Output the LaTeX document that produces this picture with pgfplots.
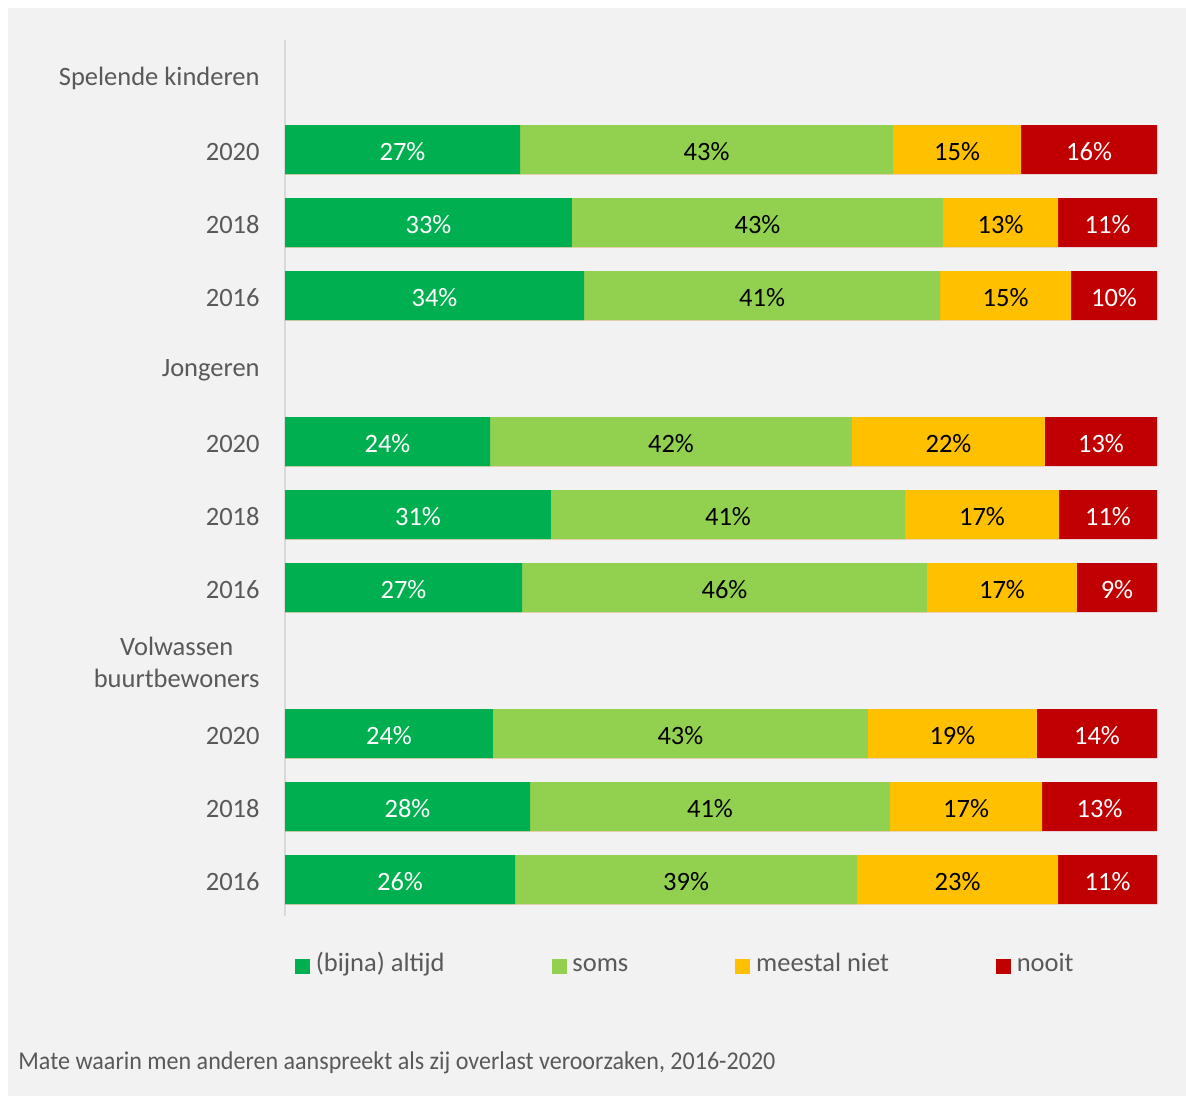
\documentclass[border=0pt]{standalone}
\usepackage{pgfplots}
\pgfplotsset{compat=1.18}
\usepackage{pgfplotstable}
\usepackage{fontspec}
\setmainfont{Carlito}
\definecolor{cGreen}{HTML}{00B050}
\definecolor{cLight}{HTML}{92D050}
\definecolor{cYellow}{HTML}{FFC000}
\definecolor{cRed}{HTML}{C00000}
\definecolor{bg}{HTML}{F2F2F2}
\definecolor{txt}{HTML}{595959}
\definecolor{axl}{HTML}{D9D9D9}
\newcommand{\lf}{\fontsize{13.25pt}{16pt}\selectfont}
\pgfplotstableread{
y a b c d la lb lc ld
1 26.95 42.78 14.68 15.59 27 43 15 16
2 32.91 42.55 13.19 11.35 33 43 13 11
3 34.29 40.83 15.02 9.86 34 41 15 10
5 23.51 41.51 22.13 12.85 24 42 22 13
6 30.50 40.60 17.66 11.24 31 41 17 11
7 27.18 46.44 17.20 9.18 27 46 17 9
9 23.85 43.00 19.38 13.77 24 43 19 14
10 28.10 41.28 17.45 13.17 28 41 17 13
11 26.38 39.22 23.05 11.35 26 39 23 11
}\data
\pgfplotsset{
  barst/.style={xbar, bar width=24.5pt, bar shift=0pt, draw=none, forget plot},
  labst/.style={draw=none, mark=none, forget plot, nodes near coords={\pgfplotspointmeta\%}, point meta=explicit symbolic,
    every node near coord/.style={anchor=center, font=\lf, text=#1, yshift=-1pt}},
}
\begin{document}
\begin{tikzpicture}
\fill[white] (0,0) rectangle (593pt,-548pt);
\useasboundingbox (0,0) rectangle (593pt,-548pt);
\fill[bg] (4pt,-4pt) rectangle (593pt,-548pt);
\begin{axis}[
  at={(142.5pt,-20pt)}, anchor=north west,
  scale only axis, width=436pt, height=438pt,
  xmin=0, xmax=100, ymin=-0.5, ymax=11.5, y dir=reverse,
  axis x line=none, axis y line=left,
  y axis line style={-, draw=axl, line width=1pt},
  ytick={0,...,11},
  yticklabels={Spelende kinderen,2020,2018,2016,Jongeren,2020,2018,2016,{Volwassen\\buurtbewoners},2020,2018,2016},
  major tick length=0pt, ytick style={draw=none},
  yticklabel style={font=\lf, text=txt, align=center, inner sep=0pt, xshift=-12.5pt, yshift=-1pt},
  clip=false,
  legend columns=4, legend cell align=left,
  legend style={at={(axis description cs:0.0115,-0.057)}, anchor=west, draw=none, fill=none,
    inner sep=0pt, outer sep=0pt,
    nodes={inner sep=0pt, font=\lf, text=txt, text height=9pt, text depth=3pt},
    /tikz/every even column/.append style={column sep=53.5pt}},
]
\addlegendimage{legend image code/.code={\fill[cGreen] (0pt,-3.5pt) rectangle (7pt,3.5pt); \path (10pt,0pt);}}
\addlegendentry{(bijna) altijd}
\addlegendimage{legend image code/.code={\fill[cLight] (0pt,-3.5pt) rectangle (7pt,3.5pt); \path (10pt,0pt);}}
\addlegendentry{soms}
\addlegendimage{legend image code/.code={\fill[cYellow] (0pt,-3.5pt) rectangle (7pt,3.5pt); \path (10pt,0pt);}}
\addlegendentry{meestal niet}
\addlegendimage{legend image code/.code={\fill[cRed] (0pt,-3.5pt) rectangle (7pt,3.5pt); \path (10pt,0pt);}}
\addlegendentry{nooit}

\addplot[barst, fill=cRed] table[x expr=\thisrow{a}+\thisrow{b}+\thisrow{c}+\thisrow{d}, y=y]{\data};
\addplot[barst, fill=cYellow] table[x expr=\thisrow{a}+\thisrow{b}+\thisrow{c}, y=y]{\data};
\addplot[barst, fill=cLight] table[x expr=\thisrow{a}+\thisrow{b}, y=y]{\data};
\addplot[barst, fill=cGreen] table[x=a, y=y]{\data};

\addplot[labst=white] table[x expr=\thisrow{a}/2, y=y, meta=la]{\data};
\addplot[labst=black] table[x expr=\thisrow{a}+\thisrow{b}/2, y=y, meta=lb]{\data};
\addplot[labst=black] table[x expr=\thisrow{a}+\thisrow{b}+\thisrow{c}/2, y=y, meta=lc]{\data};
\addplot[labst=white] table[x expr=\thisrow{a}+\thisrow{b}+\thisrow{c}+\thisrow{d}/2, y=y, meta=ld]{\data};
\end{axis}
\node[anchor=base west, text=txt, inner sep=0pt] at (9pt,-534.5pt) {\fontsize{12.8pt}{15pt}\selectfont\scalebox{0.94}[1]{Mate waarin men anderen aanspreekt als zij overlast veroorzaken, 2016-2020}};
\end{tikzpicture}
\end{document}
